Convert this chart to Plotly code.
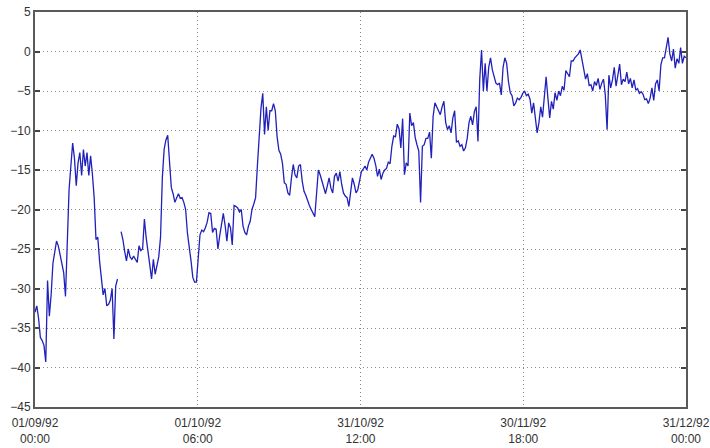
import pandas as pd
import plotly.graph_objects as go

# Series sampled every 8 hours from 01/09/92 00:00 to 31/12/92 00:00 (None = missing reading)
values = [
    -33.0, -32.2, -33.8, -36.2, -36.6, -37.2, -39.3, -29.0, -33.5, -30.8,
    -26.8, -25.5, -24.0, -24.6, -25.9, -27.0, -28.0, -31.0, -23.0, -17.5,
    -14.5, -11.6, -13.5, -17.0, -14.1, -12.8, -15.7, -12.4, -14.5, -12.8,
    -15.7, -13.2, -15.5, -18.5, -23.8, -23.5, -26.5, -28.5, -30.8, -30.0,
    -32.2, -32.0, -31.5, -30.0, -36.4, -29.7, -28.8, None, -22.8, -23.8,
    -25.3, -26.5, -25.0, -26.0, -26.3, -25.9, -26.3, -26.7, -24.6, -25.2,
    -25.0, -21.2, -23.6, -25.0, -27.0, -28.8, -26.3, -28.2, -27.0, -26.0,
    -23.5, -16.0, -12.4, -11.2, -10.6, -14.0, -17.2, -18.0, -19.1, -18.5,
    -18.0, -18.6, -18.5, -19.1, -20.0, -23.0, -24.5, -26.5, -28.6, -29.2,
    -29.2, -26.0, -23.2, -22.6, -22.8, -22.3, -21.6, -20.4, -20.5, -22.9,
    -22.4, -22.5, -25.0, -23.3, -22.1, -20.5, -22.0, -24.0, -21.7, -22.3,
    -24.5, -19.5, -19.6, -19.8, -20.3, -20.0, -22.1, -22.9, -23.2, -22.1,
    -21.5, -20.0, -19.3, -18.5, -14.5, -10.5, -7.2, -5.3, -10.5, -7.0,
    -10.0, -7.5, -7.5, -6.6, -7.5, -10.8, -12.5, -13.0, -14.2, -16.6,
    -16.8, -17.9, -18.2, -16.0, -14.3, -15.6, -16.0, -14.5, -14.3, -16.4,
    -17.7, -18.2, -19.0, -19.5, -20.0, -20.4, -20.9, -18.0, -15.0, -15.6,
    -16.4, -17.0, -18.0, -17.0, -16.0, -17.3, -17.9, -15.8, -15.4, -16.4,
    -15.2, -16.8, -17.9, -18.3, -18.5, -19.6, -17.7, -16.0, -16.8, -17.9,
    -17.5, -16.2, -15.2, -14.9, -14.5, -15.0, -14.0, -13.5, -13.0, -13.5,
    -14.4, -15.8, -14.9, -16.2, -15.4, -15.0, -14.8, -14.0, -14.2, -12.0,
    -10.7, -10.8, -9.2, -9.8, -12.2, -8.5, -15.6, -14.1, -14.5, -7.8,
    -9.4, -9.0, -10.9, -11.8, -12.6, -19.1, -12.0, -11.8, -11.0, -11.0,
    -10.2, -13.5, -8.2, -6.5, -7.0, -7.5, -8.0, -7.0, -6.3, -9.0,
    -9.9, -9.4, -10.3, -8.4, -7.5, -11.5, -11.3, -12.0, -11.8, -12.6,
    -12.2, -11.0, -9.0, -8.2, -9.3, -7.6, -7.0, -11.4, -3.5, 0.2,
    -5.0, -1.5, -5.0, -2.0, -0.8, -2.3, -3.2, -4.0, -4.2, -4.0,
    -5.5, -2.0, -0.8, -1.5, -3.8, -5.2, -5.6, -6.9, -6.5, -5.9,
    -6.1, -5.8, -5.3, -5.0, -5.6, -5.4, -6.0, -7.8, -6.5, -8.8,
    -10.3, -9.0, -7.0, -8.3, -5.5, -3.2, -5.9, -8.4, -6.3, -7.3,
    -5.2, -6.2, -5.0, -5.6, -4.4, -4.9, -2.4, -2.9, -3.2, -1.2,
    -1.2, -0.8, -0.5, -0.3, 0.2, -1.0, -2.3, -3.5, -2.8, -4.3,
    -4.2, -5.0, -3.8, -4.3, -3.4, -4.8, -4.0, -3.5, -5.5, -9.9,
    -3.0, -4.6, -3.6, -2.0, -4.4, -3.0, -1.6, -4.2, -3.5, -3.8,
    -2.6, -4.1, -3.4, -4.6, -3.6, -4.9, -4.7, -5.3, -5.1, -5.4,
    -6.1, -6.0, -6.6, -5.9, -4.6, -6.2, -4.1, -3.6, -5.0, -1.7,
    -0.8, -0.8, 0.5, 1.8, -0.3, -1.2, 0.3, -2.1, -0.9, -1.5,
    0.5, -1.5, -0.6, -0.8,
]
times = pd.date_range("1992-09-01 00:00", periods=len(values), freq="8h")

# X tick positions and their two-line labels
x_tick_vals = ["1992-09-01 00:00", "1992-10-01 06:00", "1992-10-31 12:00",
               "1992-11-30 18:00", "1992-12-31 00:00"]
x_tick_text = ["01/09/92<br>00:00", "01/10/92<br>06:00", "31/10/92<br>12:00",
               "30/11/92<br>18:00", "31/12/92<br>00:00"]
y_range = [-45, 5]

fig = go.Figure(
    go.Scatter(
        x=times, y=values, mode="lines",
        line=dict(color="#2020bb", width=1.3),
        connectgaps=False,
    )
)

fig.update_layout(
    width=710, height=448,
    margin=dict(l=35, r=24, t=12, b=41),
    paper_bgcolor="white", plot_bgcolor="white",
    showlegend=False,
    font=dict(family="Liberation Sans, Arial, sans-serif", size=12, color="#333333"),
)
fig.update_xaxes(
    type="date", automargin=False,
    range=[x_tick_vals[0], x_tick_vals[-1]],
    tickmode="array", tickvals=x_tick_vals, ticktext=x_tick_text,
    ticklabelstandoff=4,
    showgrid=True, gridcolor="#8a8a8a", gridwidth=1, griddash="1px,3px",
    showline=True, linecolor="#5a5a5a", linewidth=2, mirror=True,
    ticks="", zeroline=False,
)
fig.update_yaxes(
    automargin=False,
    range=y_range, tick0=0, dtick=5,
    showgrid=True, gridcolor="#8a8a8a", gridwidth=1, griddash="1px,3px",
    showline=True, linecolor="#5a5a5a", linewidth=2, mirror="ticks",
    ticks="inside", ticklen=5, tickcolor="#444444", tickwidth=2,
    zeroline=False,
)

fig.write_html("out.html")
